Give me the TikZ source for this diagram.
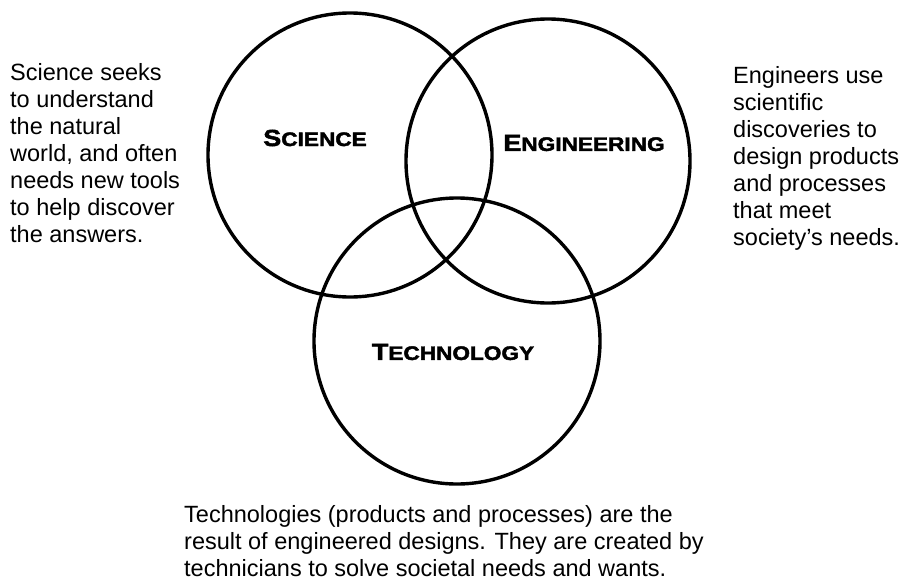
\documentclass[tikz,border=0pt]{standalone}
\usepackage{fontspec}
\setmainfont{Liberation Sans}
\newfontfamily\vennfont[FakeStretch=1.16,FakeBold=2.2]{Liberation Sans Bold}
\usetikzlibrary{shapes.geometric}
\tikzstyle{venn} = [circle, draw=black, line width=3.4pt, minimum size=284pt, inner sep=0pt]
\tikzstyle{title} = [font=\vennfont, text=black, inner sep=0pt]
\tikzstyle{blurb} = [anchor=base west, align=left, inner sep=0pt, font=\fontsize{23.5}{27}\selectfont]
\newcommand{\smcap}[2]{{\fontsize{23.3}{24}\selectfont #1}{\fontsize{19.5}{24}\selectfont #2}}

\begin{document}
\begin{tikzpicture}[x=1pt, y=-1pt]
\useasboundingbox (0,0) rectangle (904,581);

\node (sci) [venn] at (350,155) {};
\node (eng) [venn] at (548,161) {};
\node (tech) [venn, minimum size=286pt] at (457,341) {};

\node (scilab) [title] at (315,138) {\smcap{S}{CIENCE}};
\node (englab) [title] at (584,143) {\smcap{E}{NGINEERING}};
\node (techlab) [title] at (453,352) {\smcap{T}{ECHNOLOGY}};

% base = baseline of the last line
\node (scitxt) [blurb] at (10,242) {Science seeks\\to understand\\the natural\\world, and often\\needs new tools\\to help discover\\the answers.};
\node (engtxt) [blurb] at (733,245) {Engineers use\\scientific\\discoveries to\\design products\\and processes\\that meet\\society’s needs.};
\node (techtxt) [blurb] at (184,576) {Technologies (products and processes) are the\\result of engineered designs. They are created by\\technicians to solve societal needs and wants.};

\end{tikzpicture}
\end{document}
